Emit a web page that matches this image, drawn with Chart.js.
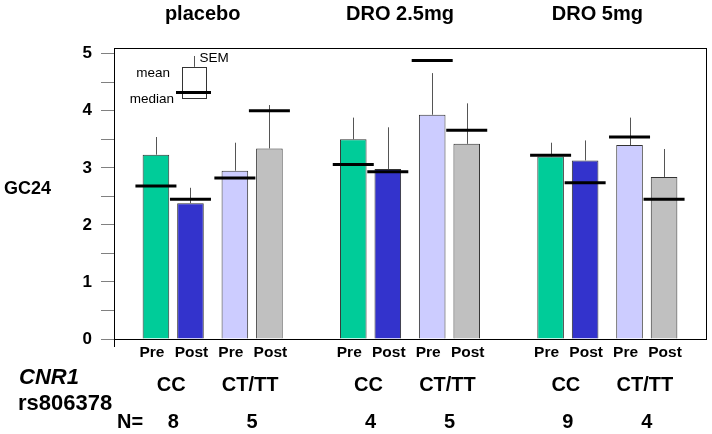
<!DOCTYPE html>
<html>
<head>
<meta charset="utf-8">
<script src="https://cdn.jsdelivr.net/npm/chart.js@4.4.1/dist/chart.umd.min.js"></script>
<style>
  html, body { margin: 0; padding: 0; background: #fff; }
</style>
</head>
<body>
<canvas id="chart" width="712" height="434"></canvas>
<script>
// GC24 by CNR1 rs806378 genotype, pre/post, per treatment arm
const groupNames = ['placebo', 'DRO 2.5mg', 'DRO 5mg'];
const genotypes = ['CC', 'CT/TT', 'CC', 'CT/TT', 'CC', 'CT/TT'];
const nSubjects = [8, 5, 4, 5, 9, 4];
const preMean = [3.23, 2.95, 3.50, 3.93, 3.20, 3.40];
const postMean = [2.38, 3.34, 2.98, 3.42, 3.13, 2.84];
const preSem = [0.31, 0.49, 0.38, 0.73, 0.24, 0.48];
const postSem = [0.27, 0.76, 0.73, 0.71, 0.35, 0.49];
const preMedian = [2.68, 2.82, 3.06, 4.88, 3.22, 3.54];
const postMedian = [2.45, 4.00, 2.93, 3.66, 2.74, 2.45];
const yTickLabels = [0, 1, 2, 3, 4, 5];

const FONT = '"Liberation Sans", Arial, sans-serif';
Chart.defaults.font.family = FONT;
Chart.defaults.color = '#000';

// category slots: genotype pairs with empty spacer slots between them
const slots = [-1];
genotypes.forEach((g, i) => {
  if (i > 0) {
    slots.push(-1);
    if (i % 2 === 0) slots.push(-1);
  }
  slots.push(i);
});
slots.push(-1);
const slotOf = genotypes.map((g, i) => slots.indexOf(i));
const padded = arr => slots.map(i => (i < 0 ? null : arr[i]));

const colors = {
  'CC': ['#00cc99', '#3333cc'],
  'CT/TT': ['#ccccff', '#c0c0c0']
};

const errorMedianPlugin = {
  id: 'errorMedian',
  afterDatasetsDraw(chart) {
    const ctx = chart.ctx;
    const y = chart.scales.y;
    ctx.save();
    // SEM whiskers
    chart.data.datasets.forEach((ds, d) => {
      chart.getDatasetMeta(d).data.forEach((bar, k) => {
        if (ds.data[k] == null) return;
        const x = Math.round(bar.x) + 0.5;
        ctx.strokeStyle = '#555';
        ctx.lineWidth = 1;
        ctx.beginPath();
        ctx.moveTo(x, bar.y);
        ctx.lineTo(x, y.getPixelForValue(ds.data[k] + ds.sem[k]));
        ctx.stroke();
      });
    });
    // medians
    chart.data.datasets.forEach((ds, d) => {
      chart.getDatasetMeta(d).data.forEach((bar, k) => {
        if (ds.data[k] == null) return;
        const my = y.getPixelForValue(ds.median[k]);
        ctx.strokeStyle = '#000';
        ctx.lineWidth = 3;
        ctx.beginPath();
        ctx.moveTo(bar.x - 20.5, my);
        ctx.lineTo(bar.x + 20.5, my);
        ctx.stroke();
      });
    });
    ctx.restore();
  }
};

const annotationPlugin = {
  id: 'annotations',
  afterDraw(chart) {
    const ctx = chart.ctx;
    const area = chart.chartArea;
    const y = chart.scales.y;
    const x = chart.scales.x;
    const pre = chart.getDatasetMeta(0).data;
    const post = chart.getDatasetMeta(1).data;
    ctx.save();

    // frame
    ctx.strokeStyle = '#000';
    ctx.lineWidth = 1;
    ctx.strokeRect(Math.round(area.left) + 0.5, Math.round(area.top) + 0.5,
      Math.round(area.width), Math.round(area.height));
    ctx.beginPath();
    ctx.moveTo(Math.round(area.left) + 0.5, area.bottom);
    ctx.lineTo(Math.round(area.left) + 0.5, area.bottom + 8);
    ctx.stroke();

    ctx.fillStyle = '#000';
    ctx.textBaseline = 'middle';

    // group titles
    ctx.textAlign = 'center';
    ctx.font = 'bold 20px ' + FONT;
    groupNames.forEach((name, g) => {
      const left = pre[slotOf[2 * g]].x;
      const right = post[slotOf[2 * g + 1]].x;
      ctx.fillText(name, (left + right) / 2 - 10, 14);
    });

    // Pre / Post labels under every bar
    ctx.font = 'bold 15.5px ' + FONT;
    genotypes.forEach((g, i) => {
      ctx.fillText('Pre', pre[slotOf[i]].x - 4, area.bottom + 14);
      ctx.fillText('Post', post[slotOf[i]].x + 1, area.bottom + 14);
    });

    // genotype and N rows
    ctx.font = 'bold 20px ' + FONT;
    genotypes.forEach((g, i) => {
      const cx = x.getPixelForValue(slotOf[i]);
      ctx.fillText(g, cx - 2, area.bottom + 46);
      ctx.fillText(String(nSubjects[i]), cx, area.bottom + 83);
    });

    ctx.textAlign = 'left';
    ctx.fillText('N=', 117, area.bottom + 83);
    ctx.font = 'italic bold 22px ' + FONT;
    ctx.fillText('CNR1', 19, area.bottom + 39);
    ctx.font = 'bold 22px ' + FONT;
    ctx.fillText('rs806378', 18, area.bottom + 65);
    ctx.font = 'bold 18px ' + FONT;
    ctx.fillText('GC24', 4, 189);

    // key: mean box, SEM whisker, median line
    const bx0 = area.left + 68, bx1 = area.left + 92;
    const bTop = y.getPixelForValue(4.77), bBot = y.getPixelForValue(4.22);
    const bxc = Math.round((bx0 + bx1) / 2) + 0.5;
    ctx.fillStyle = '#fff';
    ctx.fillRect(bx0, bTop, bx1 - bx0, bBot - bTop);
    ctx.strokeStyle = '#333';
    ctx.lineWidth = 1;
    ctx.strokeRect(bx0 + 0.5, Math.round(bTop) + 0.5, bx1 - bx0, Math.round(bBot - bTop));
    ctx.strokeStyle = '#555';
    ctx.beginPath();
    ctx.moveTo(bxc, bTop);
    ctx.lineTo(bxc, y.getPixelForValue(4.96));
    ctx.stroke();
    ctx.strokeStyle = '#000';
    ctx.lineWidth = 3;
    const mY = y.getPixelForValue(4.32);
    ctx.beginPath();
    ctx.moveTo(bx0 - 6, mY);
    ctx.lineTo(bx1 + 5, mY);
    ctx.stroke();
    ctx.fillStyle = '#000';
    ctx.font = '13.5px ' + FONT;
    ctx.textAlign = 'left';
    ctx.fillText('SEM', bxc + 5, y.getPixelForValue(4.96) + 2);
    ctx.textAlign = 'right';
    ctx.fillText('mean', bx0 - 12, bTop + 6);
    ctx.fillText('median', bx0 - 8, bBot + 1);

    ctx.restore();
  }
};

const barColor = ctx => {
  const i = slots[ctx.dataIndex];
  return i < 0 ? 'rgba(0,0,0,0)' : colors[genotypes[i]][ctx.datasetIndex];
};

new Chart(document.getElementById('chart').getContext('2d'), {
  type: 'bar',
  data: {
    labels: slots.map(i => (i < 0 ? '' : genotypes[i])),
    datasets: [
      {
        label: 'Pre',
        data: padded(preMean),
        sem: padded(preSem),
        median: padded(preMedian),
        backgroundColor: barColor,
        borderColor: '#333',
        borderWidth: 1
      },
      {
        label: 'Post',
        data: padded(postMean),
        sem: padded(postSem),
        median: padded(postMedian),
        backgroundColor: barColor,
        borderColor: '#333',
        borderWidth: 1
      }
    ]
  },
  options: {
    responsive: false,
    animation: false,
    categoryPercentage: 1.75,
    barPercentage: 0.77,
    layout: { padding: { top: 48, right: 6, bottom: 95, left: 74 } },
    plugins: {
      legend: { display: false },
      tooltip: { enabled: false }
    },
    scales: {
      x: {
        type: 'category',
        grid: { display: false, drawTicks: false },
        ticks: { display: false },
        border: { display: true, color: '#000', width: 1 }
      },
      y: {
        min: 0,
        max: 5.1,
        afterFit: scale => { scale.width = 40; },
        grid: { drawOnChartArea: false, drawTicks: true, tickLength: 13, color: '#808080' },
        border: { display: true, color: '#000', width: 1 },
        ticks: {
          stepSize: 0.5,
          includeBounds: false,
          padding: 9,
          font: { size: 17, weight: 'bold' },
          callback: v => (yTickLabels.includes(v) ? String(v) : '')
        }
      }
    }
  },
  plugins: [errorMedianPlugin, annotationPlugin]
});
</script>
</body>
</html>
